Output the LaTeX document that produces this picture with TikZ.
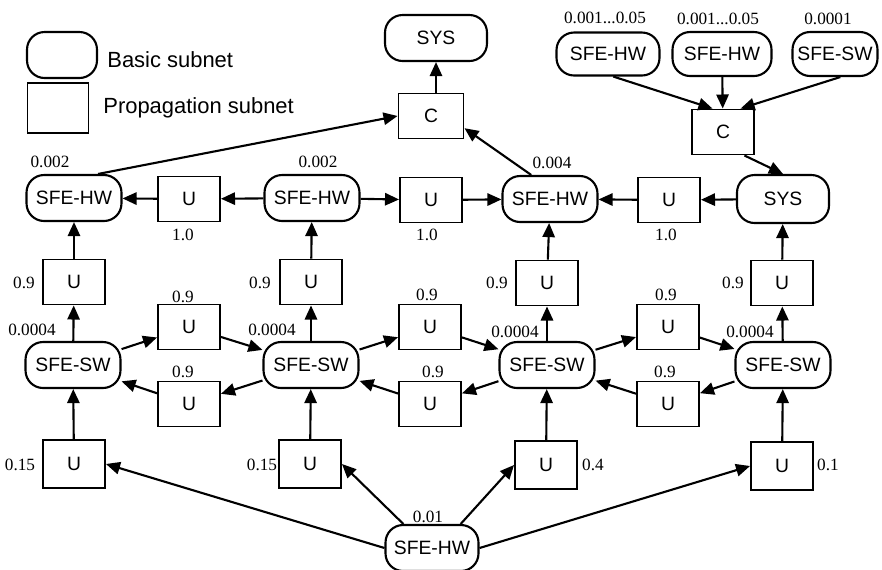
\documentclass[tikz,border=0pt]{standalone}
\usepackage{fontspec}
\setmainfont{Liberation Serif}
\newfontfamily\subnetfont{Liberation Sans}
\usetikzlibrary{arrows.meta}

\begin{document}
\begin{tikzpicture}[x=0.02cm, y=-0.02cm,
  basic/.style={rectangle, rounded corners=10pt, draw, line width=1.2pt, minimum width=1.9cm, minimum height=0.92cm, inner xsep=2pt, font=\subnetfont\fontsize{11}{13}\selectfont},
  prop/.style={rectangle, draw, line width=1.1pt, minimum width=1.24cm, minimum height=0.9cm, font=\subnetfont\fontsize{11}{13}\selectfont},
  num/.style={font=\fontsize{9.8}{11}\selectfont, inner sep=0pt},
  keytext/.style={anchor=west, inner sep=0pt, font=\subnetfont\fontsize{12.5}{14}\selectfont},
  link/.style={line width=1.2pt, -{Triangle[length=8pt,width=7pt]}}]
  \useasboundingbox (0,0) rectangle (882,569);

  % key
  \node[basic, minimum width=1.4cm] (keybasic) at (62,55) {};
  \node[keytext] (keybasictext) at (107,60) {Basic subnet};
  \node[prop, minimum width=1.22cm, minimum height=1.0cm] (keyprop) at (58,108) {};
  \node[keytext] (keyproptext) at (103,108) {Propagation subnet};

  % system level, left part
  \node[basic, minimum width=2.04cm] (sys) at (436,38) {SYS};
  \node[prop, minimum width=1.3cm] (cl) at (431,116) {C};

  % system level, right part
  \node[basic, minimum width=2.06cm, minimum height=0.86cm] (hwa) at (608,54) {SFE-HW};
  \node[basic, minimum width=1.98cm, minimum height=0.88cm] (hwb) at (722,54) {SFE-HW};
  \node[basic, minimum width=1.7cm, minimum height=0.88cm] (swc) at (835,54) {SFE-SW};
  \node[prop] (cr) at (723,132) {C};

  % hardware row
  \node[basic] (hw1) at (74,198) {SFE-HW};
  \node[prop] (u1) at (189,199) {U};
  \node[basic] (hw2) at (312,198) {SFE-HW};
  \node[prop] (u2) at (431,200) {U};
  \node[basic] (hw3) at (550,199) {SFE-HW};
  \node[prop] (u3) at (669,200) {U};
  \node[basic, minimum width=1.84cm, minimum height=0.96cm] (sysr) at (783,199) {SYS};

  % upward propagation
  \node[prop] (ua1) at (74,282) {U};
  \node[prop] (ua2) at (311,282) {U};
  \node[prop] (ua3) at (547,283) {U};
  \node[prop] (ua4) at (782,283) {U};

  % software row
  \node[basic] (sw1) at (73,365) {SFE-SW};
  \node[basic] (sw2) at (311,365) {SFE-SW};
  \node[basic] (sw3) at (547,365) {SFE-SW};
  \node[basic] (sw4) at (783,365) {SFE-SW};
  \node[prop] (um1) at (189,327) {U};
  \node[prop] (ul1) at (189,404) {U};
  \node[prop] (um2) at (430,327) {U};
  \node[prop] (ul2) at (430,404) {U};
  \node[prop] (um3) at (668,327) {U};
  \node[prop] (ul3) at (668,404) {U};

  % shared hardware
  \node[prop, minimum height=0.96cm] (ub1) at (74,464) {U};
  \node[prop, minimum height=0.96cm] (ub2) at (310,464) {U};
  \node[prop, minimum height=0.96cm] (ub3) at (546,465) {U};
  \node[prop, minimum height=0.96cm] (ub4) at (782,466) {U};
  \node[basic, minimum width=1.86cm] (hwx) at (432,548) {SFE-HW};

  % probabilities
  \node[num] (pa) at (605,18) {0.001...0.05};
  \node[num] (pb) at (718,19) {0.001...0.05};
  \node[num] (pc) at (828,19) {0.0001};
  \node[num] (ph1) at (50,162) {0.002};
  \node[num] (ph2) at (318,162) {0.002};
  \node[num] (ph3) at (552,163) {0.004};
  \node[num] (pu1) at (183,235) {1.0};
  \node[num] (pu2) at (427,235) {1.0};
  \node[num] (pu3) at (666,235) {1.0};
  \node[num] (pa1) at (24,283) {0.9};
  \node[num] (pa2) at (260,283) {0.9};
  \node[num] (pa3) at (497,283) {0.9};
  \node[num] (pa4) at (733,283) {0.9};
  \node[num] (ps1) at (32,330) {0.0004};
  \node[num] (ps2) at (272,330) {0.0004};
  \node[num] (ps3) at (515,332) {0.0004};
  \node[num] (ps4) at (750,332) {0.0004};
  \node[num] (pm1) at (183,297) {0.9};
  \node[num] (pm2) at (427,295) {0.9};
  \node[num] (pm3) at (666,295) {0.9};
  \node[num] (pl1) at (183,372) {0.9};
  \node[num] (pl2) at (433,372) {0.9};
  \node[num] (pl3) at (665,372) {0.9};
  \node[num] (pb1) at (20,465) {0.15};
  \node[num] (pb2) at (262,465) {0.15};
  \node[num] (pb3) at (593,465) {0.4};
  \node[num] (pb4) at (828,465) {0.1};
  \node[num] (px) at (428,517) {0.01};

  % top
  \draw[link] (hw1.45) -- (cl.west);
  \draw[link] (hw3.128) -- (cl.-20);
  \draw[link] (sys.south |- cl.north) -- (sys.south);
  \draw[link] ([xshift=3pt]hwa.south) -- ([xshift=-6pt]cr.north);
  \draw[link] (hwb) -- (cr);
  \draw[link] ([xshift=3pt]swc.south) -- ([xshift=10pt]cr.north);
  \draw[link] ([xshift=-6pt]cr.south east) -- (sysr.north);

  % hardware row
  \draw[link] (u1) -- (hw1);
  \draw[link] (hw2) -- (u1);
  \draw[link] (hw2) -- (u2);
  \draw[link] (u2) -- (hw3);
  \draw[link] (u3) -- (hw3);
  \draw[link] (sysr) -- (u3);

  % columns
  \draw[link] (ua1) -- (hw1);
  \draw[link] (ua2) -- (hw2);
  \draw[link] (ua3) -- (hw3);
  \draw[link] (ua4) -- (sysr);
  \draw[link] (sw1) -- (ua1);
  \draw[link] (sw2) -- (ua2);
  \draw[link] (sw3) -- (ua3);
  \draw[link] (sw4) -- (ua4);
  \draw[link] (ub1) -- (sw1);
  \draw[link] (ub2) -- (sw2);
  \draw[link] (ub3) -- (sw3);
  \draw[link] (ub4) -- (sw4);

  % software row
  \draw[link] (sw1) -- (um1);
  \draw[link] (um1) -- (sw2);
  \draw[link] (sw2) -- (ul1);
  \draw[link] (ul1) -- (sw1);
  \draw[link] (sw2) -- (um2);
  \draw[link] (um2) -- (sw3);
  \draw[link] (sw3) -- (ul2);
  \draw[link] (ul2) -- (sw2);
  \draw[link] (sw3) -- (um3);
  \draw[link] (um3) -- (sw4);
  \draw[link] (sw4) -- (ul3);
  \draw[link] (ul3) -- (sw3);

  % bottom
  \draw[link] (hwx.west) -- (ub1.east);
  \draw[link] (hwx.140) -- (ub2.east);
  \draw[link] (hwx.40) -- (ub3.west);
  \draw[link] (hwx.east) -- (ub4.west);
\end{tikzpicture}
\end{document}
